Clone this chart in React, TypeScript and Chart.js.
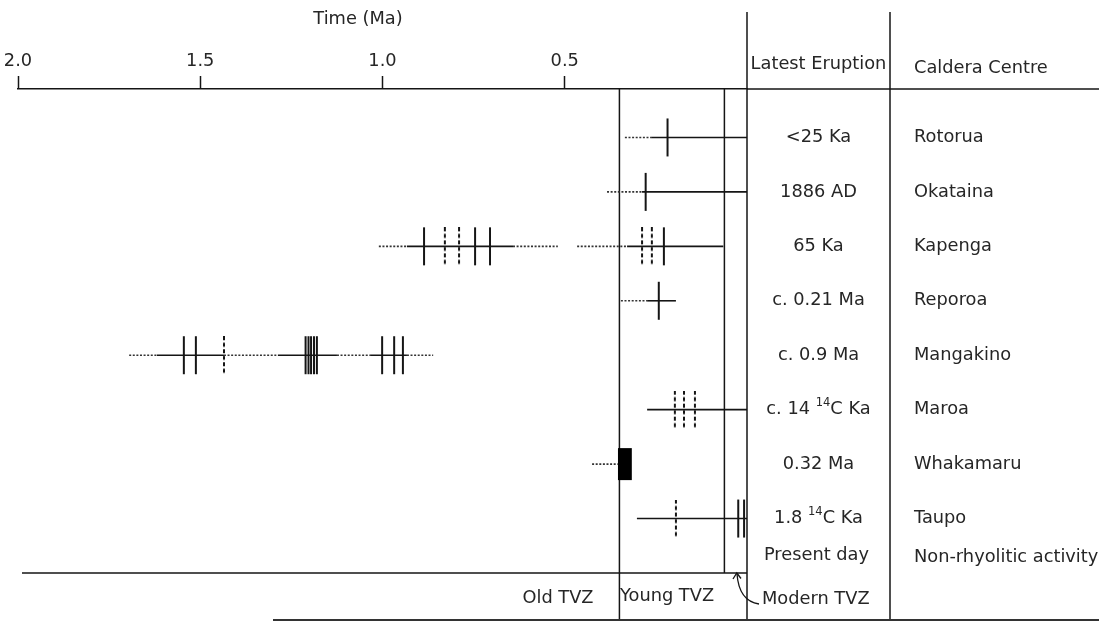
import { useEffect, useRef } from 'react';
import { Chart, registerables } from 'chart.js';

Chart.register(...registerables);

// Caldera centres (one row each) and their most recent eruption
const calderas = ['Rotorua', 'Okataina', 'Kapenga', 'Reporoa', 'Mangakino', 'Maroa', 'Whakamaru', 'Taupo'];
const latestEruption = ['<25 Ka', '1886 AD', '65 Ka', 'c. 0.21 Ma', 'c. 0.9 Ma', 'c. 14 ^14C Ka', '0.32 Ma', '1.8 ^14C Ka'];
const presentDay = { eruption: 'Present day', centre: 'Non-rhyolitic activity', row: 7.68 };

// Time axis (Ma)
const timeTicks = [2.0, 1.5, 1.0, 0.5];
const youngTvzStart = 0.35;
const modernTvzStart = 0.062;

// Activity ranges: [row, from (Ma), to (Ma)]
const activeRanges: [number, number, number][] = [
  [0, 0.263, 0],
  [1, 0.288, 0],
  [2, 0.933, 0.642],
  [2, 0.329, 0.065],
  [3, 0.274, 0.195],
  [4, 1.619, 1.435],
  [4, 1.287, 1.125],
  [4, 1.034, 0.933],
  [5, 0.274, 0],
  [7, 0.302, 0],
];

// Poorly constrained activity: [row, from (Ma), to (Ma)]
const uncertainRanges: [number, number, number][] = [
  [0, 0.335, 0.263],
  [1, 0.384, 0.288],
  [2, 1.01, 0.933],
  [2, 0.642, 0.519],
  [2, 0.466, 0.329],
  [3, 0.346, 0.274],
  [4, 1.695, 1.619],
  [4, 1.435, 1.287],
  [4, 1.125, 1.034],
  [4, 0.933, 0.861],
  [6, 0.425, 0.354],
];

// Major ignimbrite eruptions: [row, age (Ma)]
const eruptions: [number, number][] = [
  [0, 0.218],
  [1, 0.278],
  [2, 0.886], [2, 0.746], [2, 0.705], [2, 0.228],
  [3, 0.242],
  [4, 1.545], [4, 1.512],
  [4, 1.211], [4, 1.203], [4, 1.196], [4, 1.188], [4, 1.18],
  [4, 1.001], [4, 0.968], [4, 0.944],
  [7, 0.024], [7, 0.008],
];

// Eruptions with uncertain ages: [row, age (Ma)]
const uncertainEruptions: [number, number][] = [
  [2, 0.829], [2, 0.79], [2, 0.288], [2, 0.261],
  [4, 1.435],
  [5, 0.198], [5, 0.173], [5, 0.143],
  [7, 0.195],
];

// Whakamaru ignimbrite sequence: [row, from (Ma), to (Ma)]
const ignimbriteBlocks: [number, number, number][] = [[6, 0.354, 0.316]];

const INK = '#151515';
const TEXT = '#262626';
const FONT = '"DejaVu Sans", Verdana, sans-serif';
const FONT_SIZE = 17.8;

function dashedTick(len: number): HTMLCanvasElement {
  const c = document.createElement('canvas');
  c.width = 4;
  c.height = len;
  const g = c.getContext('2d')!;
  g.strokeStyle = INK;
  g.lineWidth = 2;
  g.setLineDash([4, 2.5]);
  g.beginPath();
  g.moveTo(2, 0);
  g.lineTo(2, len);
  g.stroke();
  return c;
}

function drawRich(ctx: CanvasRenderingContext2D, text: string, cx: number, cy: number) {
  const parts = text.split(/\^(\d+)/);
  const normal = `${FONT_SIZE}px ${FONT}`;
  const small = `11.5px ${FONT}`;
  let total = 0;
  parts.forEach((p, i) => {
    ctx.font = i % 2 ? small : normal;
    total += ctx.measureText(p).width;
  });
  let xPos = cx - total / 2;
  ctx.textAlign = 'left';
  parts.forEach((p, i) => {
    ctx.font = i % 2 ? small : normal;
    ctx.fillText(p, xPos, i % 2 ? cy - 7 : cy);
    xPos += ctx.measureText(p).width;
  });
}

function seg(ctx: CanvasRenderingContext2D, x1: number, y1: number, x2: number, y2: number) {
  ctx.beginPath();
  ctx.moveTo(x1, y1);
  ctx.lineTo(x2, y2);
  ctx.stroke();
}

const tablePlugin = {
  id: 'tvzTable',
  beforeDatasetsDraw(chart: any) {
    const { ctx, chartArea, scales } = chart;
    const x = scales.x;
    ctx.save();
    ctx.strokeStyle = INK;
    ctx.lineWidth = 1.5;
    const xy = x.getPixelForValue(youngTvzStart);
    const xm = x.getPixelForValue(modernTvzStart);
    seg(ctx, xy, chartArea.top, xy, 620);
    seg(ctx, xm, chartArea.top, xm, chartArea.bottom);
    ctx.restore();
  },
  afterDraw(chart: any) {
    const { ctx, chartArea, scales, width } = chart;
    const y = scales.y;
    const colA = chartArea.right;
    const colB = 890;
    ctx.save();
    ctx.strokeStyle = INK;
    ctx.lineWidth = 1.5;
    // table frame
    seg(ctx, colA, chartArea.top, width, chartArea.top);
    seg(ctx, colA, 12, colA, 620);
    seg(ctx, colB, 12, colB, 620);
    seg(ctx, 22, chartArea.bottom, colA, chartArea.bottom);
    ctx.strokeStyle = '#333';
    ctx.lineWidth = 2;
    seg(ctx, 273, 620, width, 620);

    // arrow to the Modern TVZ boundary
    ctx.strokeStyle = INK;
    ctx.lineWidth = 1.3;
    ctx.beginPath();
    ctx.moveTo(759, 604);
    ctx.quadraticCurveTo(739, 601, 737, 574);
    ctx.stroke();
    ctx.beginPath();
    ctx.moveTo(733, 579);
    ctx.lineTo(736.8, 573);
    ctx.lineTo(741, 578.5);
    ctx.stroke();

    ctx.fillStyle = TEXT;
    ctx.textBaseline = 'middle';
    ctx.font = `${FONT_SIZE}px ${FONT}`;
    ctx.textAlign = 'center';
    ctx.fillText('Time (Ma)', 358, 19);
    ctx.fillText('Latest Eruption', (colA + colB) / 2, 64);
    ctx.textAlign = 'left';
    ctx.fillText('Caldera Centre', 914, 68);

    const cx = (colA + colB) / 2;
    calderas.forEach((name, i) => {
      const py = y.getPixelForValue(i);
      ctx.fillStyle = TEXT;
      drawRich(ctx, latestEruption[i], cx, py);
      ctx.font = `${FONT_SIZE}px ${FONT}`;
      ctx.textAlign = 'left';
      ctx.fillText(name, 914, py);
    });
    const pd = y.getPixelForValue(presentDay.row);
    ctx.font = `${FONT_SIZE}px ${FONT}`;
    ctx.textAlign = 'center';
    ctx.fillText(presentDay.eruption, cx - 2, pd);
    ctx.textAlign = 'left';
    ctx.fillText(presentDay.centre, 914, pd + 2);

    // TVZ period labels
    ctx.textAlign = 'center';
    ctx.fillText('Old TVZ', 558, 598);
    ctx.textAlign = 'left';
    ctx.fillText('Young TVZ', 620, 596);
    ctx.fillText('Modern TVZ', 762, 599);
    ctx.restore();
  },
};

export default function App() {
  const ref = useRef<HTMLCanvasElement>(null);

  useEffect(() => {
    document.body.style.margin = '0';
    const canvas = ref.current;
    if (!canvas) return;

    const lineSet = (row: number, from: number, to: number, dotted: boolean) => ({
      data: [{ x: from, y: row }, { x: to, y: row }],
      showLine: true,
      borderColor: dotted ? '#333' : INK,
      borderWidth: 1.6,
      borderDash: dotted ? [2, 1.6] : [],
      borderCapStyle: 'butt',
      pointRadius: 0,
      clip: false,
    });

    const datasets: any[] = [
      ...uncertainRanges.map(([r, a, b]) => lineSet(r, a, b, true)),
      ...activeRanges.map(([r, a, b]) => lineSet(r, a, b, false)),
      ...ignimbriteBlocks.map(([r, a, b]) => ({
        data: [{ x: a, y: r }, { x: b, y: r }],
        showLine: true,
        borderColor: '#000',
        borderWidth: 32,
        borderCapStyle: 'butt',
        pointRadius: 0,
        clip: false,
      })),
      {
        data: eruptions.map(([r, a]) => ({ x: a, y: r })),
        showLine: false,
        pointStyle: 'line',
        pointRotation: 90,
        pointRadius: 19,
        pointBorderWidth: 2,
        pointBorderColor: INK,
        pointBackgroundColor: INK,
        clip: false,
      },
      {
        data: uncertainEruptions.map(([r, a]) => ({ x: a, y: r })),
        showLine: false,
        pointStyle: dashedTick(38),
        pointRadius: 19,
        clip: false,
      },
    ];

    const chart = new Chart(canvas, {
      type: 'scatter',
      data: { datasets },
      plugins: [tablePlugin],
      options: {
        animation: false,
        responsive: false,
        events: [],
        layout: { autoPadding: false, padding: { left: 18, right: 352, top: 0, bottom: 50 } },
        plugins: { legend: { display: false }, tooltip: { enabled: false } },
        scales: {
          x: {
            type: 'linear',
            position: 'top',
            min: 0,
            max: 2,
            reverse: true,
            afterBuildTicks: (s: any) => {
              s.ticks = timeTicks.map((v) => ({ value: v }));
            },
            afterFit: (s: any) => {
              s.height = 89;
              s.paddingLeft = 0;
              s.paddingRight = 0;
            },
            ticks: {
              autoSkip: false,
              maxRotation: 0,
              padding: 4,
              color: TEXT,
              font: { family: FONT, size: FONT_SIZE },
              callback: (v: any) => Number(v).toFixed(1),
            },
            grid: {
              drawOnChartArea: false,
              drawTicks: true,
              tickLength: 13,
              tickColor: INK,
              tickWidth: 1.5,
            },
            border: { display: true, color: INK, width: 1.5 },
          },
          y: {
            type: 'linear',
            display: false,
            min: -0.89,
            max: 8.0,
            reverse: true,
          },
        },
      } as any,
    });

    return () => chart.destroy();
  }, []);

  return (
    <div style={{ width: 1099, height: 623, background: '#fff' }}>
      <canvas ref={ref} width={1099} height={623} style={{ display: 'block' }} />
    </div>
  );
}
